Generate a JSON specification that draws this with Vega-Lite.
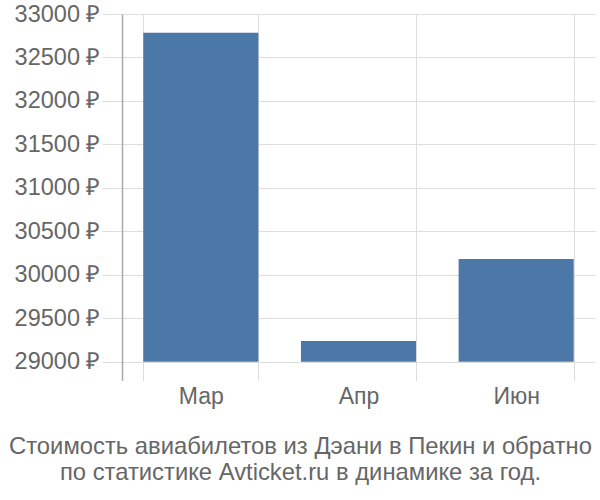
{
  "$schema": "https://vega.github.io/schema/vega-lite/v6.json",
  "width": 473,
  "height": 366.5,
  "autosize": {"type": "none"},
  "padding": {"left": 122, "top": 14, "right": 5, "bottom": 119.5},
  "background": "white",
  "data": {"values": [
    {"month": "Мар", "price": 32785},
    {"month": "Апр", "price": 29238},
    {"month": "Июн", "price": 30182}
  ]},
  "title": {
    "text": ["Стоимость авиабилетов из Дэани в Пекин и обратно", "по статистике Avticket.ru в динамике за год."],
    "orient": "bottom",
    "anchor": "middle",
    "frame": "group",
    "dx": -58,
    "font": "Liberation Sans",
    "fontSize": 23.8,
    "fontWeight": "normal",
    "color": "#666666",
    "lineHeight": 26,
    "offset": 26
  },
  "mark": {"type": "bar", "color": "#4c78a8"},
  "encoding": {
    "x": {
      "field": "month", "type": "nominal", "sort": null,
      "scale": {"paddingInner": 0.27, "paddingOuter": 0.135},
      "axis": {
        "title": null, "labelAngle": 0, "domain": false,
        "ticks": false, "grid": true, "tickBand": "extent",
        "gridColor": "#dddddd", "gridWidth": 1,
        "labelFont": "Liberation Sans", "labelFontSize": 23, "labelColor": "#666666",
        "labelPadding": 5
      }
    },
    "y": {
      "field": "price", "type": "quantitative",
      "scale": {"domain": [28784, 33000], "nice": false, "zero": false},
      "axis": {
        "title": null, "values": [29000, 29500, 30000, 30500, 31000, 31500, 32000, 32500, 33000],
        "labelExpr": "datum.value + ' ₽'",
        "domain": true, "domainColor": "#aaaaaa", "domainWidth": 1.5,
        "ticks": true, "tickSize": 20, "tickColor": "#dddddd",
        "grid": true, "gridColor": "#dddddd",
        "labelFont": "Liberation Sans", "labelFontSize": 23.5, "labelColor": "#666666",
        "labelPadding": 2
      }
    },
    "y2": {"datum": 29000}
  },
  "config": {"view": {"stroke": null}}
}
